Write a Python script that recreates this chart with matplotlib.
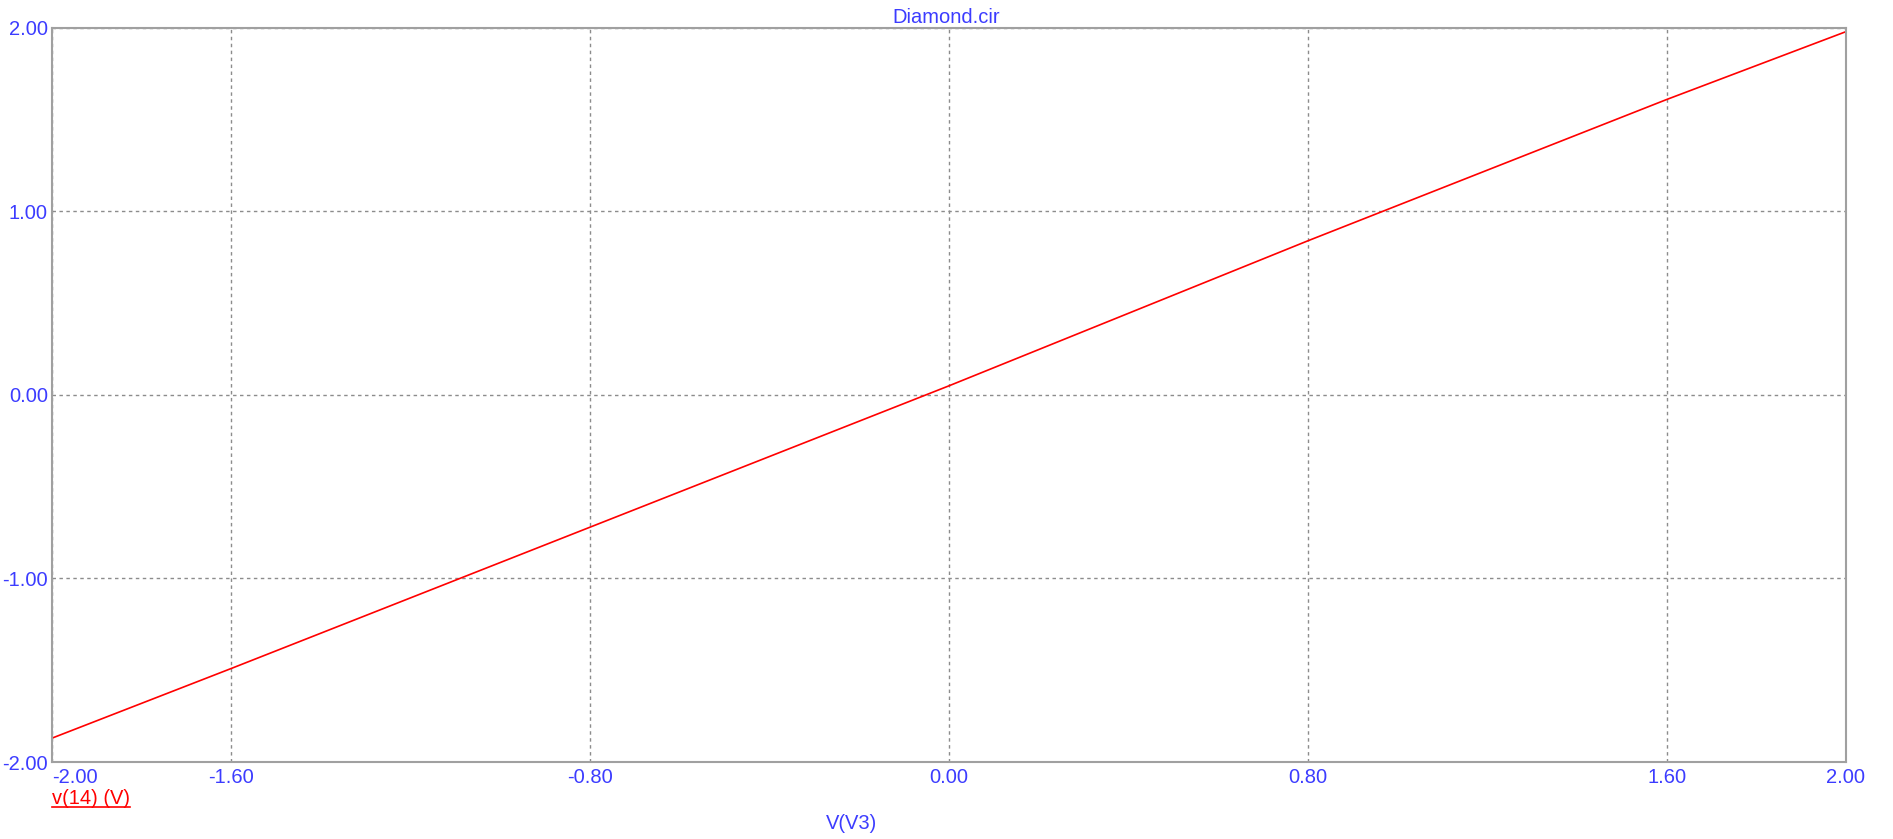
import numpy as np
import matplotlib.pyplot as plt
from matplotlib.lines import Line2D

plt.rcParams['font.family'] = ['Liberation Sans', 'DejaVu Sans']

# sweep of V(V3) and the response v(14)
v3 = [-2.0, -1.6, -0.8, 0.0, 0.8, 1.6, 2.0]
v14 = [-1.87, -1.49, -0.72, 0.05, 0.84, 1.61, 1.98]

xticks = [-2.0, -1.6, -0.8, 0.0, 0.8, 1.6, 2.0]
yticks = [-2.0, -1.0, 0.0, 1.0, 2.0]

blue = '#3c3cff'
red = '#ff0000'
frame = '#a0a0a0'
fs = 14.5

fig = plt.figure(figsize=(18.93, 8.39), dpi=100)
ax = fig.add_axes([0.02747, 0.09177, 0.9477, 0.8749])

ax.plot(v3, v14, color=red, lw=1.2)

ax.set_xlim(-2, 2)
ax.set_ylim(-2, 2)
ax.set_xticks(xticks)
ax.set_yticks(yticks)
ax.set_xticklabels(['%.2f' % t for t in xticks])
ax.set_yticklabels(['%.2f' % t for t in yticks])
ax.tick_params(length=0, labelsize=fs, labelcolor=blue)
ax.tick_params(axis='x', pad=4)
ax.tick_params(axis='y', pad=3)
ax.get_xticklabels()[0].set_horizontalalignment('left')

ax.grid(True, color='#8c8c8c', ls=(0, (2.5, 2.5)), lw=1)
for s in ax.spines.values():
    s.set_color(frame)
    s.set_linewidth(1.5)

fig.text(0.5, 0.979, 'Diamond.cir', color=blue, fontsize=fs, ha='center', va='center')
fig.text(0.450, 0.019, 'V(V3)', color=blue, fontsize=fs, ha='center', va='center')

lab = fig.text(0.02747, 0.048, 'v(14) (V)', color=red, fontsize=fs, ha='left', va='center')
fig.canvas.draw()
bb = lab.get_window_extent().transformed(fig.transFigure.inverted())
fig.add_artist(Line2D([bb.x0, bb.x1], [bb.y0 + 0.002, bb.y0 + 0.002], color=red, lw=1.2,
                      transform=fig.transFigure))

fig.savefig('out.png', dpi=100)
